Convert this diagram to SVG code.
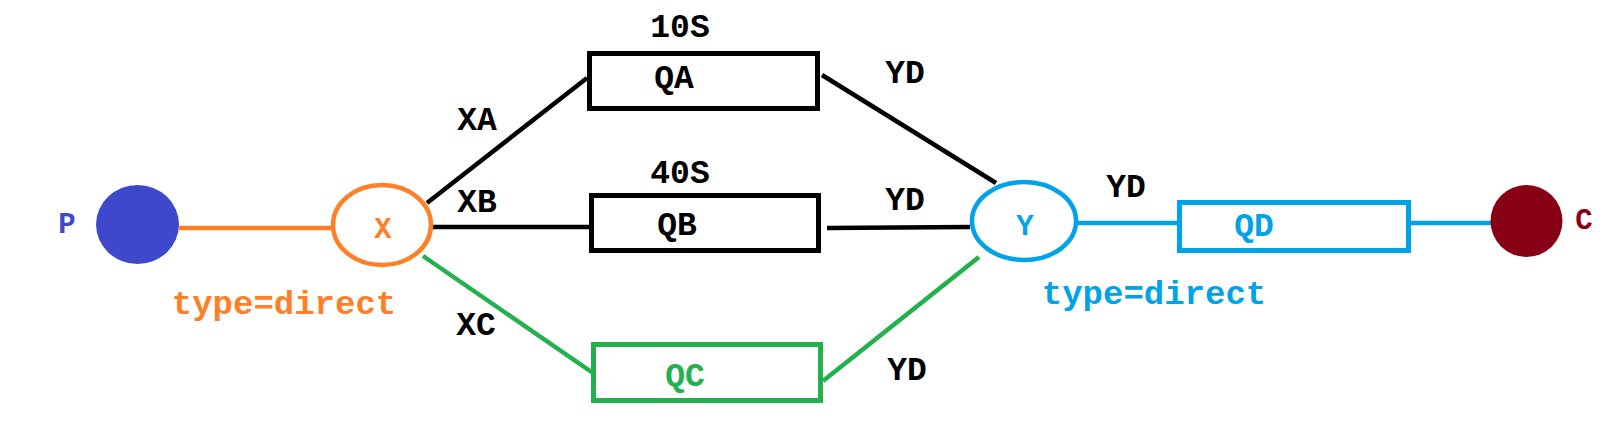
<svg xmlns="http://www.w3.org/2000/svg" width="1614" height="444" viewBox="0 0 1614 444">
<style>
text{font-family:"Courier New","Liberation Mono",monospace;font-weight:bold;text-anchor:middle;fill:#000}
.lbl{font-size:33px}
.td{font-size:34px}
.sm{font-size:29px}
.tg{fill:#22b14c}
.tb{fill:#00a2e8}
.to{fill:#ff7f27}
.tp{fill:#3f48cc}
.tr{fill:#880015}
.k{stroke:#000;stroke-width:4.5;fill:none}
.o{stroke:#ff7f27;stroke-width:4.5;fill:none}
.g{stroke:#22b14c;stroke-width:4.5;fill:none}
.b{stroke:#00a2e8;stroke-width:4.5;fill:none}
.box{fill:#fff;stroke-width:5}
</style>
<rect width="1614" height="444" fill="#fff"/>
<g id="connectors">
<line class="o" x1="179" y1="228" x2="331" y2="228"/>
<line class="k" x1="427" y1="203" x2="587" y2="78"/>
<line class="k" x1="430" y1="227" x2="589" y2="227"/>
<line class="g" x1="423" y1="256" x2="593" y2="373"/>
<line class="k" x1="822" y1="75" x2="996" y2="183"/>
<line class="k" x1="827" y1="228" x2="970" y2="227"/>
<line class="g" x1="823" y1="381" x2="979" y2="257"/>
<line class="b" x1="1076" y1="223" x2="1179" y2="223"/>
<line class="b" x1="1409" y1="223" x2="1491" y2="223"/>
<text class="lbl" x="477" y="130">XA</text>
<text class="lbl" x="477" y="212">XB</text>
<text class="lbl" x="476" y="335">XC</text>
<text class="lbl" x="905" y="83">YD</text>
<text class="lbl" x="905" y="210">YD</text>
<text class="lbl" x="907" y="380">YD</text>
<text class="lbl" x="1126" y="197">YD</text>
</g>
<g id="P">
<ellipse cx="137.5" cy="224.5" rx="41.5" ry="39.5" fill="#3f48cc"/>
<text class="sm tp" x="67" y="233">P</text>
</g>
<g id="X">
<ellipse class="o" cx="382" cy="225" rx="49" ry="40" fill="#fff"/>
<text class="sm to" x="383" y="238">X</text>
<text class="td to" x="284" y="314">type=direct</text>
</g>
<g id="QA">
<rect class="k box" x="589.5" y="53.5" width="228" height="55"/>
<text class="lbl" x="680" y="37">10S</text>
<text class="lbl" x="674" y="88">QA</text>
</g>
<g id="QB">
<rect class="k box" x="591.5" y="195.5" width="227" height="55"/>
<text class="lbl" x="680" y="183">40S</text>
<text class="lbl" x="677" y="235">QB</text>
</g>
<g id="QC">
<rect class="g box" x="593.5" y="344.5" width="227" height="56"/>
<text class="lbl tg" x="685" y="386">QC</text>
</g>
<g id="Y">
<ellipse class="b" cx="1024" cy="221" rx="52" ry="39" fill="#fff"/>
<text class="sm tb" x="1025" y="235">Y</text>
<text class="td tb" x="1154" y="304">type=direct</text>
</g>
<g id="QD">
<rect class="b box" x="1179.5" y="202.5" width="229" height="48"/>
<text class="lbl tb" x="1254" y="236">QD</text>
</g>
<g id="C">
<circle cx="1526.5" cy="221" r="36" fill="#880015"/>
<text class="sm tr" x="1584" y="229">C</text>
</g>
</svg>
